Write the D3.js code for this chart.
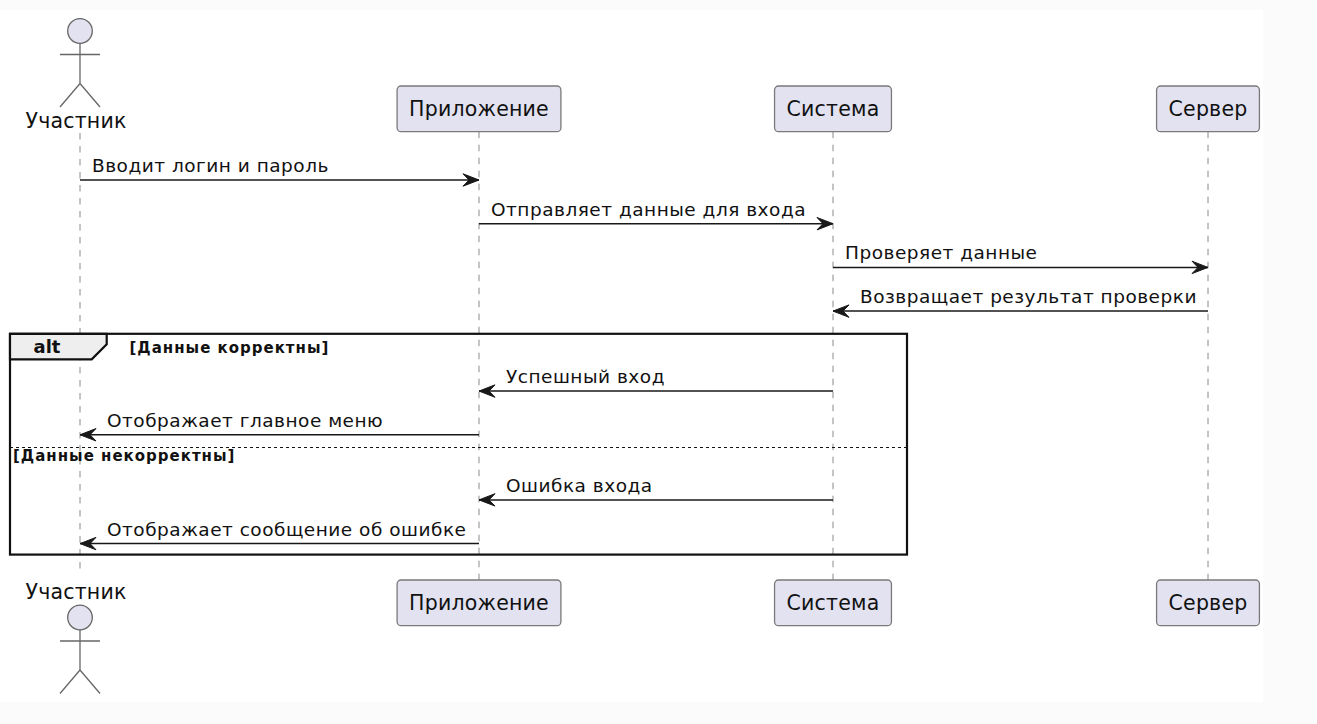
<!DOCTYPE html>
<html>
<head>
<meta charset="utf-8">
<script src="https://cdn.jsdelivr.net/npm/d3@7"></script>
<style>
  html, body { margin: 0; padding: 0; background: #fff; }
  svg { display: block; }
  text { font-family: "DejaVu Sans", sans-serif; fill: #111; }
</style>
</head>
<body>
<svg id="chart" width="1317" height="724"></svg>
<script>
// participants, left to right
const participants = ["Участник", "Приложение", "Система", "Сервер"];
const participantKind = ["actor", "box", "box", "box"];

// messages in order
const msgFrom = [0, 1, 2, 3, 2, 1, 2, 1];
const msgTo   = [1, 2, 3, 2, 1, 0, 1, 0];
const msgText = [
  "Вводит логин и пароль",
  "Отправляет данные для входа",
  "Проверяет данные",
  "Возвращает результат проверки",
  "Успешный вход",
  "Отображает главное меню",
  "Ошибка входа",
  "Отображает сообщение об ошибке"
];

// alt block: first message of each branch, and branch conditions
const altTitle = "alt";
const altBranchStart = [4, 6];
const altConditions = ["[Данные корректны]", "[Данные некорректны]"];

const svg = d3.select("#chart");
const W = 1317, H = 724;

// faint page margin around the diagram, like the screenshot
svg.append("rect").attr("width", W).attr("height", H).attr("fill", "#fbfbfb");
svg.append("rect").attr("x", 0).attr("y", 10).attr("width", 1263).attr("height", 692).attr("fill", "#fff");

// horizontal placement of lifelines
const x = d3.scaleOrdinal().domain(participants).range([80, 479, 833, 1208]);

// vertical placement: message rows, with extra room for the alt header and the else line
const rowExtra = msgText.map((d, i) => (i >= altBranchStart[0] ? 0.83 : 0) + (i >= altBranchStart[1] ? 0.49 : 0));
const y = d3.scaleLinear().domain([0, 1]).range([180, 223.7]);
const msgY = msgText.map((d, i) => y(i + rowExtra[i]));

const topY = 86, boxH = 45.7, botY = 580;
const lifeTop = topY + boxH, lifeBottom = botY;

// lifelines
svg.append("g").selectAll("line").data(participants).join("line")
  .attr("x1", d => x(d)).attr("x2", d => x(d))
  .attr("y1", (d, i) => participantKind[i] === "actor" ? 133 : lifeTop)
  .attr("y2", (d, i) => participantKind[i] === "actor" ? 575 : lifeBottom)
  .attr("stroke", "#8a8a8a").attr("stroke-width", 1)
  .attr("stroke-dasharray", "6.5,6.5");

// alt frame
const frameX0 = 10, frameX1 = 907;
const frameY0 = msgY[altBranchStart[0] - 1] + 22.7;
const frameY1 = msgY[msgY.length - 1] + 11;
const elseY = msgY[altBranchStart[1] - 1] + 12.7;
const tabW = 96.7, tabH = 25.6;

const frame = svg.append("g");
frame.append("rect")
  .attr("x", frameX0).attr("y", frameY0)
  .attr("width", frameX1 - frameX0).attr("height", frameY1 - frameY0)
  .attr("fill", "none").attr("stroke", "#111").attr("stroke-width", 2.2);
frame.append("path")
  .attr("d", d3.line()([
    [frameX0, frameY0], [frameX0 + tabW, frameY0], [frameX0 + tabW, frameY0 + 10.6],
    [frameX0 + tabW - 15, frameY0 + tabH], [frameX0, frameY0 + tabH]
  ]) + "Z")
  .attr("fill", "#eeeeee").attr("stroke", "#111").attr("stroke-width", 2.2);
frame.append("text")
  .attr("x", frameX0 + 37).attr("y", frameY0 + 19.5)
  .attr("text-anchor", "middle")
  .attr("font-size", 18).attr("font-weight", "bold")
  .text(altTitle);
frame.append("text")
  .attr("x", 129.5).attr("y", frameY0 + 19)
  .attr("font-size", 15).attr("font-weight", "bold").attr("letter-spacing", 1)
  .text(altConditions[0]);
frame.append("line")
  .attr("x1", frameX0).attr("x2", frameX1)
  .attr("y1", elseY).attr("y2", elseY)
  .attr("stroke", "#111").attr("stroke-width", 1.1)
  .attr("stroke-dasharray", "3,3");
frame.append("text")
  .attr("x", 13).attr("y", elseY + 14)
  .attr("font-size", 15).attr("font-weight", "bold").attr("letter-spacing", 1)
  .text(altConditions[1]);

// messages
const head = (tx, ty, dir) => {
  const L = 16, hw = 6.2, notch = 10;
  return d3.line()([
    [tx - dir * L, ty - hw], [tx, ty], [tx - dir * L, ty + hw], [tx - dir * notch, ty]
  ]) + "Z";
};

const msgs = svg.append("g").selectAll("g").data(msgText).join("g");
msgs.append("line")
  .attr("x1", (d, i) => x(participants[msgFrom[i]]))
  .attr("x2", (d, i) => x(participants[msgTo[i]]))
  .attr("y1", (d, i) => msgY[i]).attr("y2", (d, i) => msgY[i])
  .attr("stroke", "#181818").attr("stroke-width", 1.5);
msgs.append("path")
  .attr("d", (d, i) => {
    const dir = msgTo[i] > msgFrom[i] ? 1 : -1;
    return head(x(participants[msgTo[i]]), msgY[i], dir);
  })
  .attr("fill", "#181818").attr("stroke", "#181818").attr("stroke-width", 1);
msgs.append("text")
  .attr("x", (d, i) => msgTo[i] > msgFrom[i]
    ? x(participants[msgFrom[i]]) + 12
    : x(participants[msgTo[i]]) + 27)
  .attr("y", (d, i) => msgY[i] - 8)
  .attr("font-size", 18.5).attr("letter-spacing", 0.5)
  .text(d => d);

// participant heads, top and bottom
function drawParticipant(g, name, kind, pos) {
  const cx = x(name);
  if (kind === "box") {
    const by = pos === "top" ? topY : botY;
    const t = g.append("text")
      .attr("x", cx).attr("y", by + 30)
      .attr("text-anchor", "middle")
      .attr("font-size", 20.5).attr("letter-spacing", 0.2)
      .text(name);
    const w = t.node().getComputedTextLength() + 24;
    g.insert("rect", "text")
      .attr("x", cx - w / 2).attr("y", by)
      .attr("width", w).attr("height", boxH)
      .attr("rx", 4).attr("ry", 4)
      .attr("fill", "#e2e2f0").attr("stroke", "#7a7a7a").attr("stroke-width", 1.3);
  } else {
    // stick figure
    const headCy = pos === "top" ? 31 : 617.5;
    const labelY = pos === "top" ? 128 : 599;
    const fig = g.append("g").attr("stroke", "#666").attr("stroke-width", 1.3).attr("fill", "none");
    fig.append("circle").attr("cx", cx).attr("cy", headCy).attr("r", 12.3).attr("fill", "#e2e2f0");
    fig.append("line").attr("x1", cx).attr("x2", cx).attr("y1", headCy + 12.3).attr("y2", headCy + 52.5);
    fig.append("line").attr("x1", cx - 20).attr("x2", cx + 20).attr("y1", headCy + 23.5).attr("y2", headCy + 23.5);
    fig.append("line").attr("x1", cx).attr("x2", cx - 20).attr("y1", headCy + 52.5).attr("y2", headCy + 76);
    fig.append("line").attr("x1", cx).attr("x2", cx + 20).attr("y1", headCy + 52.5).attr("y2", headCy + 76);
    g.append("text")
      .attr("x", cx - 4).attr("y", labelY)
      .attr("text-anchor", "middle")
      .attr("font-size", 20.5).attr("letter-spacing", 0.2)
      .text(name);
  }
}

["top", "bottom"].forEach(pos => {
  const layer = svg.append("g");
  participants.forEach((p, i) => drawParticipant(layer.append("g"), p, participantKind[i], pos));
});
</script>
</body>
</html>
